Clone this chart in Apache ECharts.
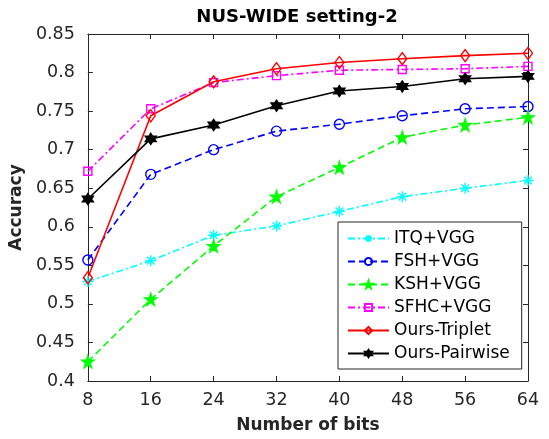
<!DOCTYPE html>
<html>
<head>
<meta charset="utf-8">
<script src="https://cdn.jsdelivr.net/npm/echarts@6/dist/echarts.min.js"></script>
<style>
	html, body {margin: 0; padding: 0; background: #fff;}
	#chart {width: 549px; height: 439px;}
</style>
</head>
<body>
<div id="chart"></div>
<script>
const bits = [8, 16, 24, 32, 40, 48, 56, 64]
const yTicks = [0.4, 0.85, 0.05] // min, max, step

const itqVgg = [0.529, 0.556, 0.589, 0.601, 0.620, 0.639, 0.650, 0.660]
const fshVgg = [0.557, 0.668, 0.700, 0.724, 0.733, 0.744, 0.753, 0.756]
const kshVgg = [0.425, 0.506, 0.575, 0.639, 0.677, 0.716, 0.732, 0.742]
const sfhcVgg = [0.672, 0.753, 0.787, 0.796, 0.803, 0.804, 0.805, 0.808]
const oursTriplet = [0.534, 0.744, 0.788, 0.805, 0.813, 0.818, 0.822, 0.825]
const oursPairwise = [0.636, 0.714, 0.732, 0.757, 0.776, 0.782, 0.792, 0.795]

// the reference is a bit stretched sideways, DejaVu's wider glyphs fit it better
const FONT = '"DejaVu Sans", "Liberation Sans", sans-serif'
const INK = '#262626'

// star outline for the pentagram / hexagram markers
const starPath = (n, inner) => {
	let d = ''
	for (let i = 0; i < n * 2; i++) {
		const r = i % 2 ? inner : 10
		const a = -Math.PI / 2 + i * Math.PI / n
		d += (i ? 'L' : 'M') + (r * Math.cos(a)).toFixed(3) + ',' + (r * Math.sin(a)).toFixed(3)
	}
	return 'path://' + d + 'Z'
}
const asterisk = 'path://M0,-10L0,10M-10,0L10,0M-7,-7L7,7M-7,7L7,-7'

const pairs = ys => bits.map((b, i) => [b, ys[i]])

const makeSeries = (name, ys, color, dash, symbol, size, fill) => ({
	name,
	type: 'line',
	data: pairs(ys),
	symbol,
	symbolSize: size,
	lineStyle: {color, width: 1.6, type: dash},
	itemStyle: {color: fill, borderColor: color, borderWidth: 1.4},
	emphasis: {disabled: true}
})

const dashed = [7, 4]
const dashDot = [7, 3, 2, 3]

const series = [
	makeSeries('ITQ+VGG', itqVgg, '#00ffff', dashDot, asterisk, 11, '#00ffff'),
	makeSeries('FSH+VGG', fshVgg, '#0000ff', dashed, 'circle', 10, 'rgba(0,0,0,0)'),
	makeSeries('KSH+VGG', kshVgg, '#00ff00', dashed, starPath(5, 3.82), 12, '#00ff00'),
	makeSeries('SFHC+VGG', sfhcVgg, '#ff00ff', dashDot, 'rect', 8, 'rgba(0,0,0,0)'),
	makeSeries('Ours-Triplet', oursTriplet, '#ff0000', 'solid', 'diamond', [9, 12], 'rgba(0,0,0,0)'),
	makeSeries('Ours-Pairwise', oursPairwise, '#000000', 'solid', starPath(6, 5.77), 11, '#000000')
]

const tickAxis = {
	axisLine: {show: true, lineStyle: {color: INK, width: 1}},
	axisTick: {show: true, inside: true, length: 5, lineStyle: {color: INK}},
	splitLine: {show: false}
}

const option = {
	animation: false,
	backgroundColor: '#fff',
	textStyle: {fontFamily: FONT},
	title: {
		text: 'NUS-WIDE setting-2',
		left: 292,
		textAlign: 'center',
		top: 3,
		textStyle: {fontFamily: FONT, fontSize: 18, fontWeight: 'bold', color: '#000'}
	},
	grid: {left: 86, right: 21, top: 34, bottom: 58},
	legend: {
		orient: 'vertical',
		left: 338,
		top: 222,
		padding: [7, 12, 6, 9],
		itemWidth: 41,
		itemHeight: 9,
		itemGap: 4,
		backgroundColor: '#fff',
		borderColor: INK,
		borderWidth: 1,
		borderRadius: 0,
		textStyle: {fontFamily: FONT, fontSize: 17, lineHeight: 19, color: '#000'},
		data: series.map(s => s.name)
	},
	xAxis: [{
		type: 'value',
		min: bits[0],
		max: bits[bits.length - 1],
		interval: 8,
		name: 'Number of bits',
		nameLocation: 'middle',
		nameGap: 36,
		nameTextStyle: {fontFamily: FONT, fontSize: 17, fontWeight: 'bold', color: INK},
		axisLabel: {fontFamily: FONT, fontSize: 17.5, color: INK, margin: 10},
		...tickAxis
	}, {
		type: 'value',
		position: 'top',
		min: bits[0],
		max: bits[bits.length - 1],
		interval: 8,
		axisLabel: {show: false},
		...tickAxis
	}],
	yAxis: [{
		type: 'value',
		min: yTicks[0],
		max: yTicks[1],
		interval: yTicks[2],
		name: 'Accuracy',
		nameLocation: 'middle',
		nameGap: 57,
		nameTextStyle: {fontFamily: FONT, fontSize: 17, fontWeight: 'bold', color: INK},
		axisLabel: {fontFamily: FONT, fontSize: 17.5, color: INK, margin: 13,
			formatter: v => String(+v.toFixed(2))},
		...tickAxis
	}, {
		type: 'value',
		position: 'right',
		min: yTicks[0],
		max: yTicks[1],
		interval: yTicks[2],
		axisLabel: {show: false},
		...tickAxis
	}],
	series
}

const chart = echarts.init(document.getElementById('chart'), null, {renderer: 'canvas'})
chart.setOption(option)
</script>
</body>
</html>
